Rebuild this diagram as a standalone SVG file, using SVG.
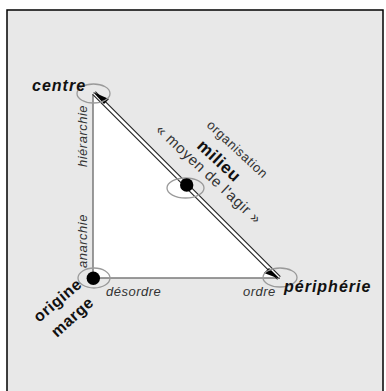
<svg xmlns="http://www.w3.org/2000/svg" width="386" height="391" viewBox="0 0 386 391">
  <style>
    .bg { fill: #e8e8e8; stroke: #000; stroke-width: 1.5; }
    .ring { fill: none; stroke: #9a9a9a; stroke-width: 1.3; }
    .dot { fill: #000; }
    .edge { stroke: #7a7a7a; stroke-width: 1.5; fill: none; }
    .big { font-family: "Liberation Sans", Arial, sans-serif; font-weight: bold; font-style: italic; font-size: 16px; letter-spacing: 1px; fill: #111; }
    .bold { font-family: "Liberation Sans", Arial, sans-serif; font-weight: bold; font-size: 16px; letter-spacing: 0.6px; fill: #111; }
    .lab { font-family: "Liberation Sans", Arial, sans-serif; font-style: italic; font-size: 13px; letter-spacing: 0.5px; fill: #333; }
    .reg { font-family: "Liberation Sans", Arial, sans-serif; font-size: 13px; letter-spacing: 0.6px; fill: #333; }
  </style>
  <rect class="bg" x="7" y="10" width="376" height="395"/>

  <g id="connectors">
    <polygon points="93,94 93,278 280,278" fill="#fff" stroke="none"/>
    <line class="edge" x1="93" y1="94" x2="93" y2="278"/>
    <line class="edge" x1="93" y1="278" x2="280" y2="278"/>
    <line x1="94" y1="93" x2="279" y2="278" stroke="#222" stroke-width="5"/>
    <line x1="94" y1="93" x2="279" y2="278" stroke="#fff" stroke-width="2.6"/>
    <polygon points="93,92 109,99 104,104" fill="#000"/>
    <polygon points="280,279 264,273 269,268" fill="#000"/>
    <text class="lab" transform="translate(87,167) rotate(-90)">hiérarchie</text>
    <text class="lab" transform="translate(87,268) rotate(-90)">anarchie</text>
    <text class="lab" x="106" y="296">désordre</text>
    <text class="lab" x="243" y="296">ordre</text>
  </g>

  <g id="node-centre">
    <ellipse class="ring" cx="93.5" cy="93.5" rx="16.5" ry="9.5"/>
    <text class="big" x="32" y="91">centre</text>
  </g>

  <g id="node-origine">
    <ellipse class="ring" cx="94" cy="278" rx="16" ry="10"/>
    <circle class="dot" cx="93.3" cy="278.3" r="6.7"/>
    <text class="bold" transform="translate(39,323) rotate(-40)">origine</text>
    <text class="bold" transform="translate(57,338) rotate(-42)">marge</text>
  </g>

  <g id="node-peripherie">
    <ellipse class="ring" cx="280" cy="277.5" rx="17" ry="9.5"/>
    <text class="big" x="284" y="292">périphérie</text>
  </g>

  <g id="node-milieu">
    <ellipse class="ring" cx="185.5" cy="188" rx="18.5" ry="10"/>
    <circle class="dot" cx="186.7" cy="185" r="6.7"/>
    <text class="reg" transform="translate(206,126) rotate(43)">organisation</text>
    <text class="bold" style="font-size:17px" transform="translate(196,147) rotate(43)">milieu</text>
    <text class="reg" style="font-size:15px" transform="translate(155,131) rotate(43)">« moyen de l'agir »</text>
  </g>
</svg>
